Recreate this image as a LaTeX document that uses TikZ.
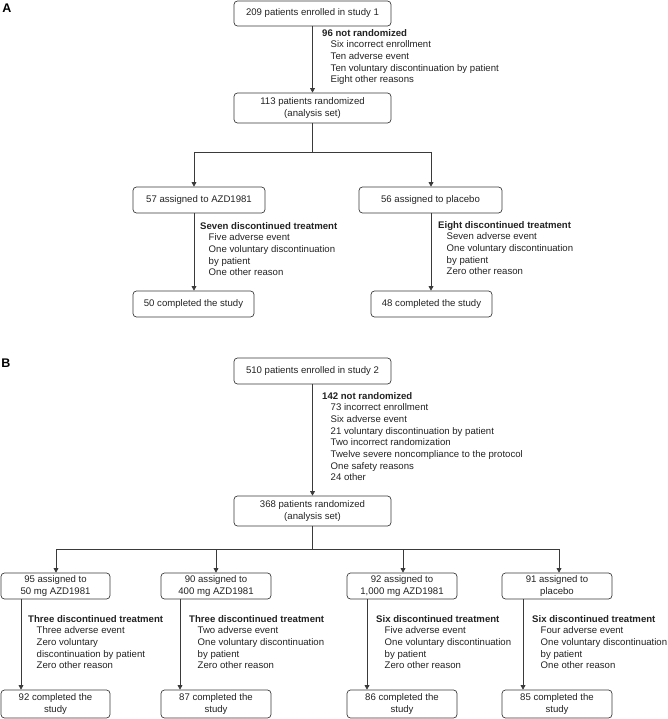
\documentclass[tikz,border=0pt]{standalone}
\usepackage{fontspec}
\setmainfont{Liberation Sans}
\usetikzlibrary{arrows.meta}
\definecolor{ln}{HTML}{3A3A3A}
\definecolor{txt}{HTML}{222222}
\newcommand\nind{\hspace*{8.5pt}}
\begin{document}
\begin{tikzpicture}[x=1pt,y=-1pt,
  box/.style={draw=ln, line width=0.7pt, rounded corners=3.5pt, inner sep=0pt, align=center, text=txt, font=\fontsize{9.6}{11.8}\selectfont},
  note/.style={anchor=north west, inner sep=0pt, align=left, text=txt, font=\fontsize{9.6}{11.65}\selectfont},
  conn/.style={draw=ln, line width=0.7pt},
  arr/.style={conn, -{Triangle[length=4.5pt,width=4.8pt]}},
  lbl/.style={font=\fontsize{12.5}{14}\selectfont\bfseries, inner sep=0pt, text=black}]
\useasboundingbox (0,0) rectangle (667,719);

% ---------- Panel A ----------
\node[lbl] (lA) at (7,8) {A};
\node[box, minimum width=157pt, minimum height=25pt] (b1) at (312.5,13.5) {209 patients enrolled in study 1};
\node[box, minimum width=157pt, minimum height=30pt] (b2) at (312.5,108) {113 patients randomized\\(analysis set)};
\node[note] (nA1) at (322,29) {\textbf{96 not randomized}\\\nind Six incorrect enrollment\\\nind Ten adverse event\\\nind Ten voluntary discontinuation by patient\\\nind Eight other reasons};

\node[box, minimum width=132pt, minimum height=26pt] (a3) at (199,200) {57 assigned to AZD1981};
\node[box, minimum width=143pt, minimum height=26pt] (a4) at (430.5,200) {56 assigned to placebo};
\node[box, minimum width=121pt, minimum height=26pt] (c3) at (193.5,304) {50 completed the study};
\node[box, minimum width=121pt, minimum height=26pt] (c4) at (431.5,304) {48 completed the study};

\node[note] (nA2) at (200,222) {\textbf{Seven discontinued treatment}\\\nind Five adverse event\\\nind One voluntary discontinuation\\\nind by patient\\\nind One other reason};
\node[note] (nA3) at (438,221) {\textbf{Eight discontinued treatment}\\\nind Seven adverse event\\\nind One voluntary discontinuation\\\nind by patient\\\nind Zero other reason};

\coordinate (sA) at (312.5,152);
\coordinate (sAL) at (194,152);
\coordinate (sAR) at (431,152);
\draw[arr] (b1.south) -- (b2.north);
\draw[conn] (b2.south) -- (sA);
\draw[conn] (sAL) -- (sAR);
\draw[arr] (sAL) -- (sAL |- a3.north);
\draw[arr] (sAR) -- (sAR |- a4.north);
\draw[arr] (a3.south -| sAL) -- (c3.north -| sAL);
\draw[arr] (a4.south -| sAR) -- (c4.north -| sAR);

% ---------- Panel B ----------
\node[lbl] (lB) at (6,363) {B};
\node[box, minimum width=157pt, minimum height=26pt] (b5) at (312.5,371) {510 patients enrolled in study 2};
\node[box, minimum width=157pt, minimum height=30pt] (b6) at (312.5,511) {368 patients randomized\\(analysis set)};
\node[note] (nB1) at (322,392) {\textbf{142 not randomized}\\\nind 73 incorrect enrollment\\\nind Six adverse event\\\nind 21 voluntary discontinuation by patient\\\nind Two incorrect randomization\\\nind Twelve severe noncompliance to the protocol\\\nind One safety reasons\\\nind 24 other};

\node[box, minimum width=109pt, minimum height=26pt] (r1) at (55.5,586) {95 assigned to\\50 mg AZD1981};
\node[box, minimum width=110pt, minimum height=26pt] (r2) at (216,586) {90 assigned to\\400 mg AZD1981};
\node[box, minimum width=110pt, minimum height=26pt] (r3) at (402,586) {92 assigned to\\1,000 mg AZD1981};
\node[box, minimum width=110pt, minimum height=26pt] (r4) at (557,586) {91 assigned to\\placebo};

\node[box, minimum width=109pt, minimum height=28pt] (f1) at (55.5,704) {92 completed the\\study};
\node[box, minimum width=110pt, minimum height=28pt] (f2) at (216,704) {87 completed the\\study};
\node[box, minimum width=110pt, minimum height=28pt] (f3) at (402,704) {86 completed the\\study};
\node[box, minimum width=110pt, minimum height=28pt] (f4) at (557,704) {85 completed the\\study};

\node[note] (nB2) at (28,615) {\textbf{Three discontinued treatment}\\\nind Three adverse event\\\nind Zero voluntary\\\nind discontinuation by patient\\\nind Zero other reason};
\node[note] (nB3) at (189,615) {\textbf{Three discontinued treatment}\\\nind Two adverse event\\\nind One voluntary discontinuation\\\nind by patient\\\nind Zero other reason};
\node[note] (nB4) at (376,615) {\textbf{Six discontinued treatment}\\\nind Five adverse event\\\nind One voluntary discontinuation\\\nind by patient\\\nind Zero other reason};
\node[note] (nB5) at (532,615) {\textbf{Six discontinued treatment}\\\nind Four adverse event\\\nind One voluntary discontinuation\\\nind by patient\\\nind One other reason};

\coordinate (sB) at (312.5,549);
\coordinate (sB1) at (56,549);
\coordinate (sB2) at (216,549);
\coordinate (sB3) at (403,549);
\coordinate (sB4) at (559,549);
\coordinate (d1) at (21,640);
\coordinate (d2) at (180,640);
\coordinate (d3) at (367,640);
\coordinate (d4) at (523,640);

\draw[arr] (b5.south) -- (b6.north);
\draw[conn] (b6.south) -- (sB);
\draw[conn] (sB1) -- (sB4);
\draw[arr] (sB1) -- (sB1 |- r1.north);
\draw[arr] (sB2) -- (sB2 |- r2.north);
\draw[arr] (sB3) -- (sB3 |- r3.north);
\draw[arr] (sB4) -- (sB4 |- r4.north);
\draw[arr] (r1.south -| d1) -- (f1.north -| d1);
\draw[arr] (r2.south -| d2) -- (f2.north -| d2);
\draw[arr] (r3.south -| d3) -- (f3.north -| d3);
\draw[arr] (r4.south -| d4) -- (f4.north -| d4);
\end{tikzpicture}
\end{document}
